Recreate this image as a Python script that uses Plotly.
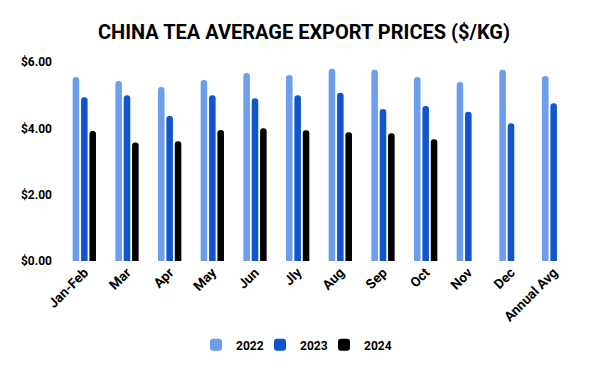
import plotly.graph_objects as go

categories = ["Jan-Feb", "Mar", "Apr", "May", "Jun", "Jly", "Aug", "Sep", "Oct", "Nov", "Dec", "Annual Avg"]
prices_2022 = [5.55, 5.43, 5.25, 5.46, 5.67, 5.61, 5.80, 5.77, 5.55, 5.40, 5.77, 5.58]
prices_2023 = [4.94, 5.00, 4.37, 5.00, 4.91, 5.00, 5.07, 4.58, 4.67, 4.50, 4.15, 4.76]
prices_2024 = [3.92, 3.57, 3.61, 3.95, 4.00, 3.94, 3.88, 3.85, 3.67, None, None, None]

series = [("2022", prices_2022, "#6d9eeb", "legend"), ("2023", prices_2023, "#1155cc", "legend2"),
          ("2024", prices_2024, "#000000", "legend3")]

fig = go.Figure()
for name, vals, color, lg in series:
    fig.add_trace(go.Bar(x=categories, y=vals, name=name, legend=lg,
                         marker=dict(color=color, cornerradius=3, line=dict(width=0))))

font = "Roboto, Arial, sans-serif"
legfont = dict(family=font, size=12, color="#000000", weight="bold")


def leg(x):
    return dict(orientation="h", x=x, xref="container", xanchor="left", y=0.072, yref="container",
                yanchor="middle", font=legfont, bgcolor="rgba(0,0,0,0)")


# page body has an 8px margin, so the figure is 8px smaller and coordinates are offset by 8
fig.update_layout(
    width=592, height=363,
    margin=dict(l=55, r=25, t=54, b=110, autoexpand=False),
    paper_bgcolor="white", plot_bgcolor="white",
    barmode="group", bargap=0.41, bargroupgap=0.22,
    title=dict(text="<b>CHINA TEA AVERAGE EXPORT PRICES ($/KG)</b>", x=0.5, xref="container", xanchor="center",
               y=0.934, yref="container", yanchor="middle",
               font=dict(family=font, size=20, color="#000000")),
    font=dict(family=font, color="#000000"),
    xaxis=dict(tickangle=-45, tickfont=dict(family=font, size=13.5, color="#000000", weight="bold"), showgrid=False,
               showline=False, ticks="", automargin=False),
    yaxis=dict(range=[0, 6], tickvals=[0, 2, 4, 6], ticktext=["$0.00", "$2.00", "$4.00", "$6.00"],
               tickfont=dict(family=font, size=12, color="#000000", weight="bold"), showgrid=False, zeroline=False,
               showline=False, ticks="", ticklabelstandoff=10, automargin=False),
    legend=leg(0.3176),
    legend2=leg(0.4257),
    legend3=leg(0.5338),
    showlegend=True,
)

fig.write_html("out.html")
